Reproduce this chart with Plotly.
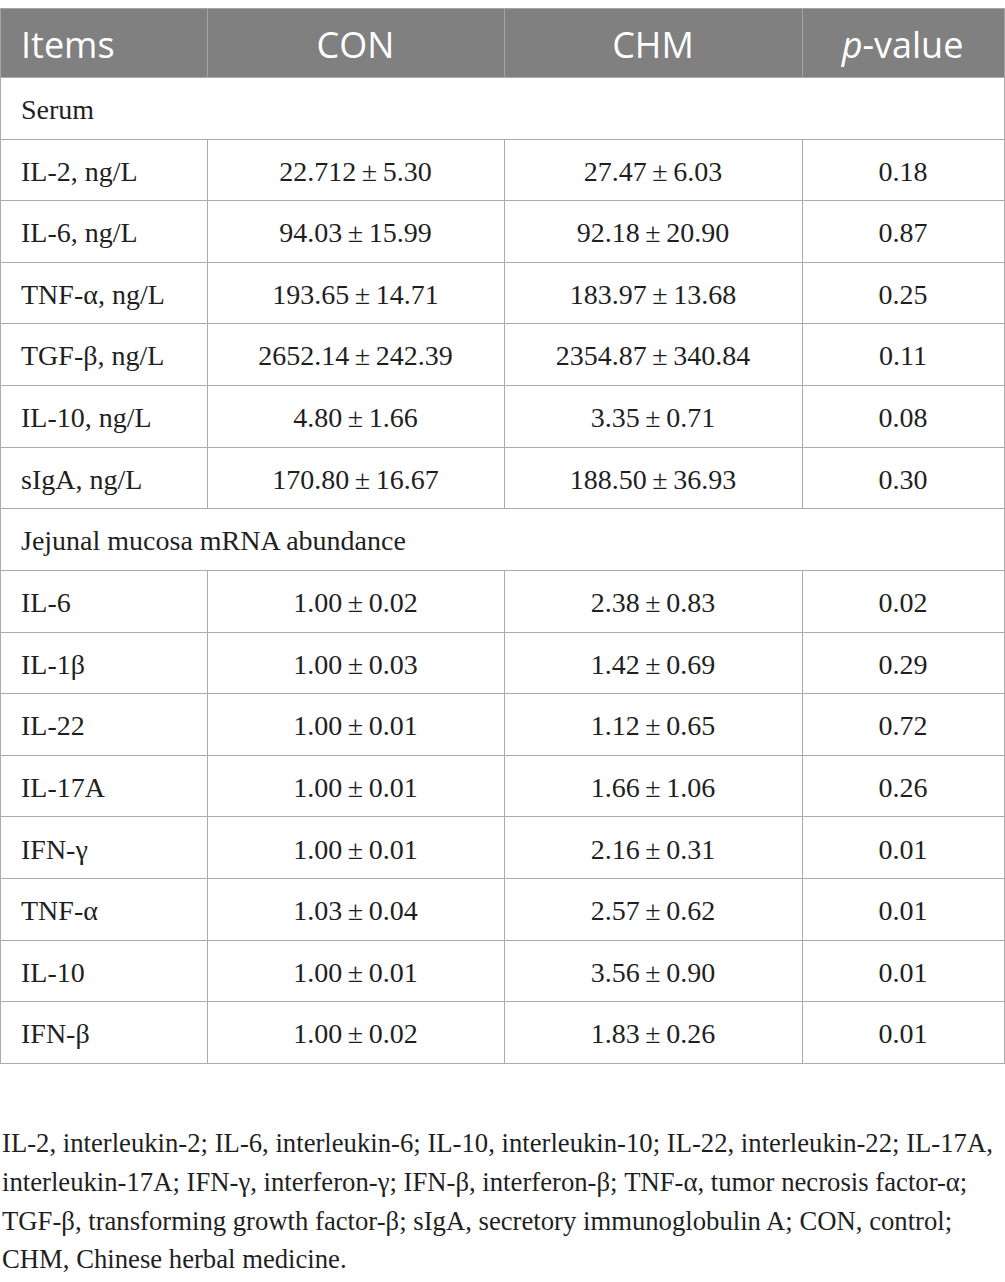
import plotly.graph_objects as go

W, H = 1005, 1282

# ---------------- data ----------------
header_labels = ["Items", "CON", "CHM", "<i>p</i>-value"]

section_labels = ["Serum", "Jejunal mucosa mRNA abundance"]

serum_items = ["IL-2, ng/L", "IL-6, ng/L", "TNF-α, ng/L", "TGF-β, ng/L", "IL-10, ng/L", "sIgA, ng/L"]
serum_con_mean = ["22.712", "94.03", "193.65", "2652.14", "4.80", "170.80"]
serum_con_sd = ["5.30", "15.99", "14.71", "242.39", "1.66", "16.67"]
serum_chm_mean = ["27.47", "92.18", "183.97", "2354.87", "3.35", "188.50"]
serum_chm_sd = ["6.03", "20.90", "13.68", "340.84", "0.71", "36.93"]
serum_p = ["0.18", "0.87", "0.25", "0.11", "0.08", "0.30"]

jej_items = ["IL-6", "IL-1β", "IL-22", "IL-17A", "IFN-γ", "TNF-α", "IL-10", "IFN-β"]
jej_con_mean = ["1.00", "1.00", "1.00", "1.00", "1.00", "1.03", "1.00", "1.00"]
jej_con_sd = ["0.02", "0.03", "0.01", "0.01", "0.01", "0.04", "0.01", "0.02"]
jej_chm_mean = ["2.38", "1.42", "1.12", "1.66", "2.16", "2.57", "3.56", "1.83"]
jej_chm_sd = ["0.83", "0.69", "0.65", "1.06", "0.31", "0.62", "0.90", "0.26"]
jej_p = ["0.02", "0.29", "0.72", "0.26", "0.01", "0.01", "0.01", "0.01"]

footnote_lines = [
    "IL-2, interleukin-2; IL-6, interleukin-6; IL-10, interleukin-10; IL-22, interleukin-22; IL-17A,",
    "interleukin-17A; IFN-γ, interferon-γ; IFN-β, interferon-β; TNF-α, tumor necrosis factor-α;",
    "TGF-β, transforming growth factor-β; sIgA, secretory immunoglobulin A; CON, control;",
    "CHM, Chinese herbal medicine.",
]

# ---------------- style ----------------
col_widths = [207, 297, 298, 202]
table_right = 1004
indent = 13            # extra left indent of left-aligned text
line_col = "#ababab"
head_fill = "#808080"
head_line = "#a4a4a4"
serif = "Liberation Serif"
sans = "Open Sans"
body_size = 28
head_size = 36
foot_size = 26.7
text_col = "#1f1f1f"
clear = "rgba(0,0,0,0)"

header_top, header_h = 8, 69
sec_h, row_h = 62, 61.6
sec1_top = header_top + header_h
data1_top = sec1_top + sec_h
sec2_top = data1_top + len(serum_items) * row_h
data2_top = sec2_top + sec_h

shift_head = 3.5       # vertical offset that centres the text in its row
shift_body = 8.5

text_widths = [col_widths[0] - indent] + col_widths[1:]
x_grid = [0, table_right / W]
x_text = [indent / W, table_right / W]


def dom(top, h):
    return [max(0.0, 1 - (top + h + 3) / H), 1 - top / H]


def pm(means, sds):
    return [f"{m}\u2009±\u2009{s}" for m, s in zip(means, sds)]


def sp(vals):
    return [f"<span>{v}</span>" for v in vals]


fig = go.Figure()

# ---- header ----
fig.add_trace(go.Table(
    domain=dict(x=x_grid, y=dom(header_top, header_h)),
    columnwidth=col_widths,
    header=dict(values=[""] * 4, height=header_h,
                fill_color=head_fill, line=dict(color=head_line, width=1)),
    cells=dict(values=[[], [], [], []]),
))
fig.add_trace(go.Table(
    domain=dict(x=x_text, y=dom(header_top + shift_head, header_h)),
    columnwidth=text_widths,
    header=dict(values=sp(header_labels), height=header_h,
                fill_color=clear, line=dict(color=clear, width=0),
                align=["left", "center", "center", "center"],
                font=dict(family=sans, size=head_size, color="white")),
    cells=dict(values=[[], [], [], []]),
))

sections = [
    (sec1_top, data1_top, section_labels[0], serum_items,
     pm(serum_con_mean, serum_con_sd), pm(serum_chm_mean, serum_chm_sd), serum_p),
    (sec2_top, data2_top, section_labels[1], jej_items,
     pm(jej_con_mean, jej_con_sd), pm(jej_chm_mean, jej_chm_sd), jej_p),
]

body_font = dict(family=serif, size=body_size, color=text_col)
aligns = ["left", "center", "center", "center"]

for s_top, d_top, label, items, con, chm, pv in sections:
    n = len(items)
    # section label row (spans all columns)
    fig.add_trace(go.Table(
        domain=dict(x=x_grid, y=dom(s_top, sec_h)),
        columnwidth=[sum(col_widths)],
        header=dict(values=[""], height=sec_h, fill_color="white",
                    line=dict(color=line_col, width=1)),
        cells=dict(values=[[]]),
    ))
    fig.add_trace(go.Table(
        domain=dict(x=x_text, y=dom(s_top + shift_body, sec_h)),
        columnwidth=[sum(text_widths)],
        header=dict(values=sp([label]), height=sec_h, fill_color=clear,
                    line=dict(color=clear, width=0), align="left", font=body_font),
        cells=dict(values=[[]]),
    ))
    # data rows: first row as the table header, the rest as cells
    cols = [items, con, chm, pv]
    fig.add_trace(go.Table(
        domain=dict(x=x_grid, y=dom(d_top, n * row_h)),
        columnwidth=col_widths,
        header=dict(values=[""] * 4, height=row_h, fill_color="white",
                    line=dict(color=line_col, width=1)),
        cells=dict(values=[[""] * (n - 1) for _ in cols], height=row_h,
                   fill_color="white", line=dict(color=line_col, width=1)),
    ))
    fig.add_trace(go.Table(
        domain=dict(x=x_text, y=dom(d_top + shift_body, n * row_h)),
        columnwidth=text_widths,
        header=dict(values=sp([c[0] for c in cols]), height=row_h, fill_color=clear,
                    line=dict(color=clear, width=0), align=aligns, font=body_font),
        cells=dict(values=[sp(c[1:]) for c in cols], height=row_h, fill_color=clear,
                   line=dict(color=clear, width=0), align=aligns, font=body_font),
    ))

foot_baselines = [1152, 1191, 1230, 1268]
for txt, b in zip(footnote_lines, foot_baselines):
    fig.add_annotation(x=0, y=1 - (b - 9) / H, xref="paper", yref="paper",
                       xanchor="left", yanchor="middle", showarrow=False,
                       text=txt, align="left",
                       font=dict(family=serif, size=foot_size, color=text_col))

fig.update_layout(width=W, height=H, margin=dict(l=0, r=0, t=0, b=0),
                  paper_bgcolor="white", plot_bgcolor="white")

fig.write_html("out.html", config={"displayModeBar": False},
               post_script="document.body.style.margin='0px';")
